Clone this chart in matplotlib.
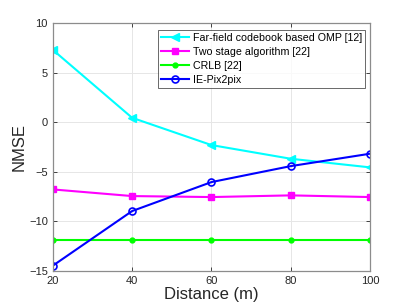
import matplotlib
matplotlib.use("Agg")
import matplotlib.pyplot as plt

distance = [20, 40, 60, 80, 100]
omp = [7.3, 0.45, -2.3, -3.68, -4.55]
two_stage = [-6.77, -7.44, -7.54, -7.37, -7.54]
crlb = [-11.9, -11.9, -11.9, -11.9, -11.9]
pix2pix = [-14.46, -8.95, -6.03, -4.42, -3.17]
labels = ["Far-field codebook based OMP [12]", "Two stage algorithm [22]", "CRLB [22]", "IE-Pix2pix"]

plt.rcParams['font.family'] = ['Liberation Sans', 'DejaVu Sans']
fig = plt.figure(figsize=(4.09, 3.07), dpi=100)
ax = fig.add_axes([0.129, 0.117, 0.776, 0.808])

ax.plot(distance, omp, color='#00FFFF', marker='<', ms=6, lw=1.5, label=labels[0])
ax.plot(distance, two_stage, color='#FF00FF', marker='s', ms=4, lw=1.5, label=labels[1])
ax.plot(distance, crlb, color='#00FF00', marker='.', ms=7, lw=1.5, label=labels[2])
ax.plot(distance, pix2pix, color='#0000FF', marker='o', ms=5, mfc='none', mew=1.2, lw=1.5, label=labels[3])

ax.set_xlim(20, 100)
ax.set_ylim(-15, 10)
ax.set_xticks([20, 40, 60, 80, 100])
ax.set_yticks([-15, -10, -5, 0, 5, 10])
ax.grid(True, color='#E6E6E6', lw=0.7)
ax.set_axisbelow(True)
for s in ax.spines.values():
    s.set_color('#8C8C8C')
    s.set_linewidth(0.9)
ax.tick_params(direction='in', length=3, width=0.6, labelsize=8, colors='#262626', top=True, right=True)
ax.set_xlabel('Distance (m)', fontsize=12, color='#262626', labelpad=1)
ax.set_ylabel('NMSE', fontsize=12, color='#262626', labelpad=2)

leg = ax.legend(loc='upper right', bbox_to_anchor=(0.985, 0.972), fontsize=7.7, frameon=True, fancybox=False,
                edgecolor='#262626', handlelength=2.6, labelspacing=0.36, borderpad=0.3, handletextpad=0.4,
                borderaxespad=0)
leg.get_frame().set_linewidth(0.6)

fig.savefig('out.png', dpi=100)
